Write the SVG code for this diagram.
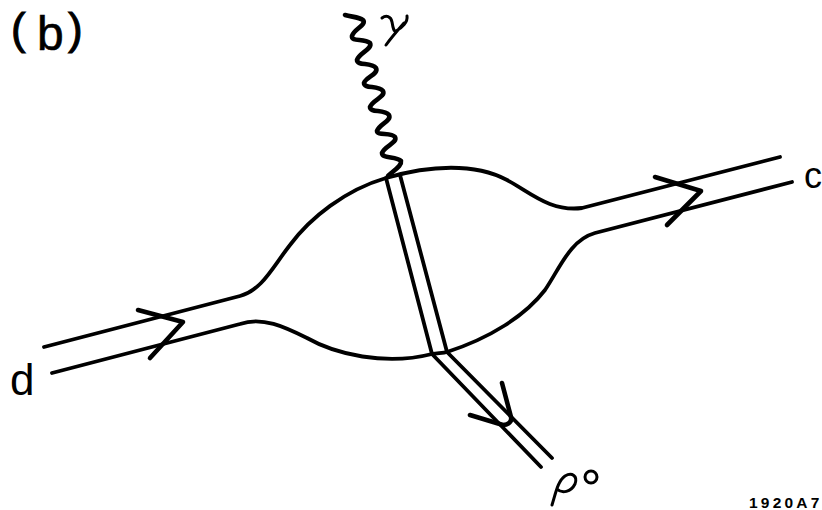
<svg xmlns="http://www.w3.org/2000/svg" width="822" height="510" viewBox="0 0 822 510">
<style>
.l{fill:none;stroke:#000;stroke-width:3.8;stroke-linecap:round;stroke-linejoin:round}
.w{stroke-width:4.6}
.g{stroke-width:3}
.t{font-family:"Liberation Sans",Arial,sans-serif;fill:#000}
</style>
<rect width="822" height="510" fill="#fff"/>
<g id="connectors">
<path class="l" d="M44 347L240 296C262 290 272 268 290 245C310 218 345 190 386 178C430 165 475 163 507 180C530 192 550 212 582 208L780 157"/>
<path class="l" d="M52 373L240 324C262 316 285 327 307 338C335 354 385 366 432 354C440 353 444 353 447 352C490 338 525 316 545 290C560 268 570 240 595 233L792 182"/>
<path class="l" d="M386 178L432 354"/>
<path class="l" d="M400 175L447 352"/>
<path class="l" d="M432 354L541 467"/>
<path class="l" d="M447 352L552 458"/>
<path class="l w" d="M345 15C352 17 359 17 363 20C367 25 354 29 352 36C351 42 364 38 370 43C373 49 359 53 357 60C357 66 371 62 376 68C379 74 366 77 364 83C364 89 378 85 383 91C386 97 372 100 370 107C370 113 384 109 389 115C392 121 379 124 377 131C377 136 391 132 395 137C398 143 384 146 382 153C382 159 396 156 401 161C402 166 394 170 388 176"/>
<path class="l w" d="M138 310L183 322L150 358"/>
<path class="l w" d="M655 177L701 191L667 225"/>
<path class="l w" d="M470 415L503 425C509 425 512 421 511 417L502 383"/>
</g>
<g id="labels">
<text class="t" x="11" y="44" font-size="44" stroke="#000" stroke-width="1">(</text>
<text class="t" x="37" y="50" font-size="48" stroke="#000" stroke-width="0.6">b</text>
<text class="t" x="68" y="44" font-size="44" stroke="#000" stroke-width="1">)</text>
<text class="t" x="10" y="395" font-size="44">d</text>
<text class="t" x="804" y="188" font-size="36">c</text>
<text class="t" x="749" y="508" font-size="15.5" font-weight="bold" letter-spacing="3.2">1920A7</text>
<path class="l g" d="M382 18C386 15 391 16 392 22C393 28 394 32 396 31C402 28 408 22 407 16M404 23C397 31 391 38 386 45"/>
<path class="l g" d="M552 505C556 492 558 481 565 476C572 472 578 476 575 484C571 492 562 494 557 489"/>
<circle class="l g" cx="591" cy="477" r="6"/>
</g>
</svg>
